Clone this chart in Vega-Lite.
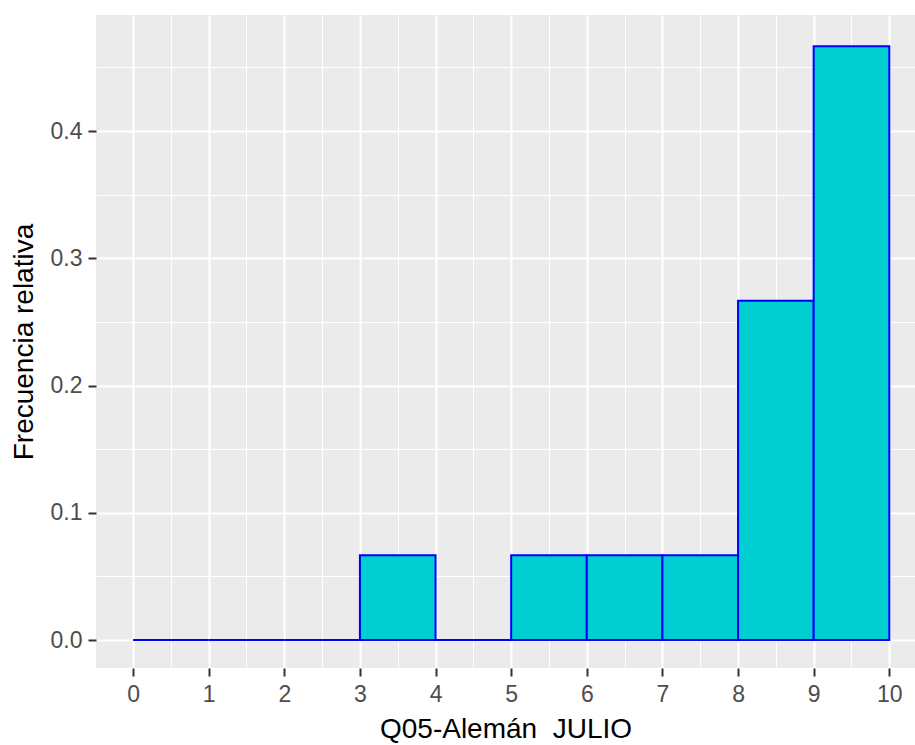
{
  "$schema": "https://vega.github.io/schema/vega-lite/v6.json",
  "autosize": {"type": "none"},
  "padding": {"left": 96, "top": 15, "right": 0, "bottom": 77},
  "width": 819,
  "height": 653,
  "background": "white",
  "config": {
    "view": {"fill": "#EBEBEB", "stroke": null},
    "font": "Liberation Sans",
    "axis": {
      "domain": false,
      "gridColor": "white",
      "tickColor": "#333333",
      "tickWidth": 2,
      "tickSize": 8,
      "labelColor": "#4D4D4D",
      "labelFont": "Liberation Sans",
      "labelFontSize": 23,
      "titleFont": "Liberation Sans",
      "titleFontSize": 28,
      "titleFontWeight": "normal",
      "titleColor": "black"
    }
  },
  "data": {
    "values": [
      {"inicio": 0, "fin": 1, "frecuencia": 0},
      {"inicio": 1, "fin": 2, "frecuencia": 0},
      {"inicio": 2, "fin": 3, "frecuencia": 0},
      {"inicio": 3, "fin": 4, "frecuencia": 0.0667},
      {"inicio": 4, "fin": 5, "frecuencia": 0},
      {"inicio": 5, "fin": 6, "frecuencia": 0.0667},
      {"inicio": 6, "fin": 7, "frecuencia": 0.0667},
      {"inicio": 7, "fin": 8, "frecuencia": 0.0667},
      {"inicio": 8, "fin": 9, "frecuencia": 0.2667},
      {"inicio": 9, "fin": 10, "frecuencia": 0.4667}
    ]
  },
  "mark": {"type": "rect", "fill": "#00CED1", "stroke": "#0000FF", "strokeWidth": 2},
  "encoding": {
    "x": {
      "field": "inicio",
      "type": "quantitative",
      "title": "Q05-Alemán \u00a0JULIO",
      "scale": {"domain": [-0.49, 10.34], "nice": false, "zero": false},
      "axis": {
        "values": [0, 0.5, 1, 1.5, 2, 2.5, 3, 3.5, 4, 4.5, 5, 5.5, 6, 6.5, 7, 7.5, 8, 8.5, 9, 9.5, 10],
        "labelExpr": "datum.value % 1 != 0 ? '' : format(datum.value, 'd')",
        "gridWidth": {"condition": {"test": "datum.value % 1 != 0", "value": 1}, "value": 2},
        "tickOpacity": {"condition": {"test": "datum.value % 1 != 0", "value": 0}, "value": 1},
        "labelPadding": 7,
        "titlePadding": 9,
        "labelFlush": false,
        "labelOverlap": false
      }
    },
    "x2": {"field": "fin"},
    "y": {
      "field": "frecuencia",
      "type": "quantitative",
      "title": "Frecuencia relativa",
      "scale": {"domain": [-0.022, 0.4912], "nice": false, "zero": false},
      "axis": {
        "values": [0, 0.05, 0.1, 0.15, 0.2, 0.25, 0.3, 0.35, 0.4, 0.45],
        "labelExpr": "round(datum.value * 100) % 10 != 0 ? '' : format(datum.value, '.1f')",
        "gridWidth": {"condition": {"test": "round(datum.value * 100) % 10 != 0", "value": 1}, "value": 2},
        "tickOpacity": {"condition": {"test": "round(datum.value * 100) % 10 != 0", "value": 0}, "value": 1},
        "labelPadding": 6,
        "titlePadding": 12,
        "labelFlush": false,
        "labelOverlap": false
      }
    },
    "y2": {"datum": 0}
  }
}
